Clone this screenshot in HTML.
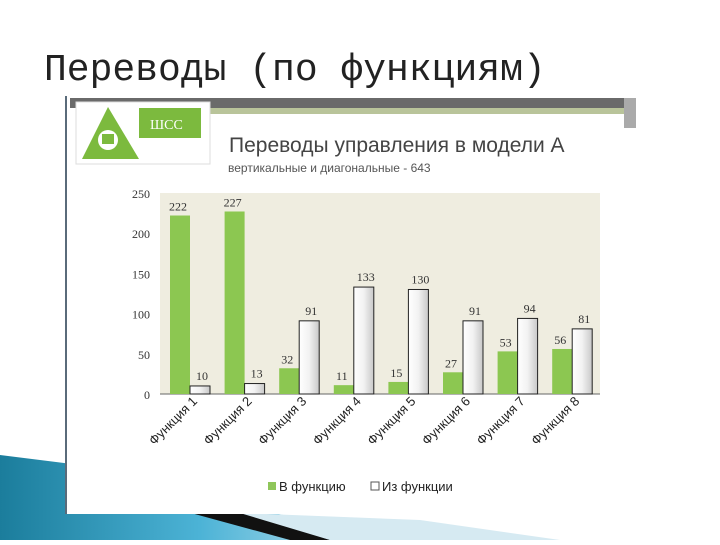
<!DOCTYPE html>
<html><head><meta charset="utf-8"><style>
body{margin:0;width:720px;height:540px;overflow:hidden;background:#fff;font-family:"Liberation Sans","DejaVu Sans",sans-serif;}
</style></head><body>
<svg width="720" height="540" xmlns="http://www.w3.org/2000/svg">
<defs>
<linearGradient id="blue" x1="0" y1="0" x2="1" y2="0"><stop offset="0" stop-color="#1b7d9c"/><stop offset="0.5" stop-color="#4cb3d6"/><stop offset="1" stop-color="#cfe9f3"/></linearGradient>
<linearGradient id="wb" x1="0" y1="0" x2="1" y2="0"><stop offset="0" stop-color="#ffffff"/><stop offset="0.5" stop-color="#f2f2f2"/><stop offset="1" stop-color="#c8c8c8"/></linearGradient>
</defs>
<text x="44" y="80" font-family="'Liberation Mono','DejaVu Sans Mono',monospace" font-size="38" fill="#222">Переводы (по функциям)</text>
<g>
<polygon points="0,455 120,470 260,510 400,540 0,540" fill="url(#blue)"/>
<polygon points="180,510 250,513 330,540 290,540" fill="#111"/>
<polygon points="240,513 420,520 560,540 330,540" fill="#d6eaf2"/>
</g>
<rect x="66" y="96" width="570" height="418" fill="#fff"/>
<line x1="66" y1="96" x2="66" y2="514" stroke="#5a6b7a" stroke-width="2"/>
<rect x="70" y="98" width="562" height="10" fill="#6a6a6a"/>
<rect x="210" y="108" width="422" height="6" fill="#b9c49a"/>
<rect x="624" y="98" width="12" height="30" fill="#aaa"/>
<g>
<rect x="76" y="102" width="134" height="62" fill="#fff" stroke="#ddd"/>
<polygon points="108,107 139,159 82,159" fill="#7cba3e"/>
<rect x="139" y="108" width="62" height="30" fill="#7cba3e"/>
<text x="150" y="129" font-family="'Liberation Serif',serif" font-size="14" fill="#fff">ШСС</text>
<circle cx="108" cy="140" r="10" fill="#fff"/><rect x="102" y="134" width="12" height="10" fill="#7cba3e"/>
</g>
<text x="229" y="152" font-size="21" fill="#444">Переводы управления в модели А</text>
<text x="228" y="172" font-size="12" fill="#555">вертикальные и диагональные - 643</text>
<rect x="160" y="193" width="440" height="201" fill="#efede0"/>
<g id="chart"></g>
<g>
<rect x="268" y="482" width="8" height="8" fill="#8fc65a"/>
<text x="279" y="491" font-size="13" fill="#222">В функцию</text>
<rect x="371" y="482" width="8" height="8" fill="#fff" stroke="#555"/>
<text x="382" y="491" font-size="13" fill="#222">Из функции</text>
</g>
</svg>
<script>
const categories=["Функция 1","Функция 2","Функция 3","Функция 4","Функция 5","Функция 6","Функция 7","Функция 8"];
const inValues=[222,227,32,11,15,27,53,56];
const outValues=[10,13,91,133,130,91,94,81];
const yTicks=[0,50,100,150,200,250];
const NS="http://www.w3.org/2000/svg";
const chartG=document.getElementById('chart');
const x0=160,gw=54.6,base=394,plotTop=193,ymax=250;
const yS=v=>base-(v/ymax)*(base-plotTop);
const gx=i=>x0+i*gw;
function mk(t,a,txt){const e=document.createElementNS(NS,t);for(const k in a)e.setAttribute(k,a[k]);if(txt!=null)e.textContent=txt;chartG.appendChild(e);return e;}
const ax=mk('line',{x1:x0,y1:base,x2:x0+440,y2:base,stroke:'#666'});


yTicks.forEach(t=>{const e=mk('text',{x:150,y:yS(t)+5,'text-anchor':'end','font-size':12,'font-family':"'Liberation Serif',serif",fill:'#333'},t);

});
categories.forEach((c,i)=>{
 const gi=gx(i);
 const b1=mk('rect',{x:gi+10,y:yS(inValues[i]),width:20,height:base-yS(inValues[i]),fill:'#8cc751'});
 
 
 const b2=mk('rect',{x:gi+30,y:yS(outValues[i]),width:20,height:base-yS(outValues[i]),fill:'url(#wb)',stroke:'#222','stroke-width':1});
 
 
 const l1=mk('text',{x:gi+18,y:yS(inValues[i])-5,'text-anchor':'middle','font-size':12,'font-family':"'Liberation Serif',serif",fill:'#333'},inValues[i]);
 
 
 const l2=mk('text',{x:gi+42,y:yS(outValues[i])-6,'text-anchor':'middle','font-size':12,'font-family':"'Liberation Serif',serif",fill:'#333'},outValues[i]);
 
 
 const cx=gi+38,cy=402;
 const t=mk('text',{x:cx,y:cy,'text-anchor':'end','font-size':13,fill:'#222',transform:`rotate(-45 ${cx} ${cy})`},c);
 
 
});
</script>
</body></html>
